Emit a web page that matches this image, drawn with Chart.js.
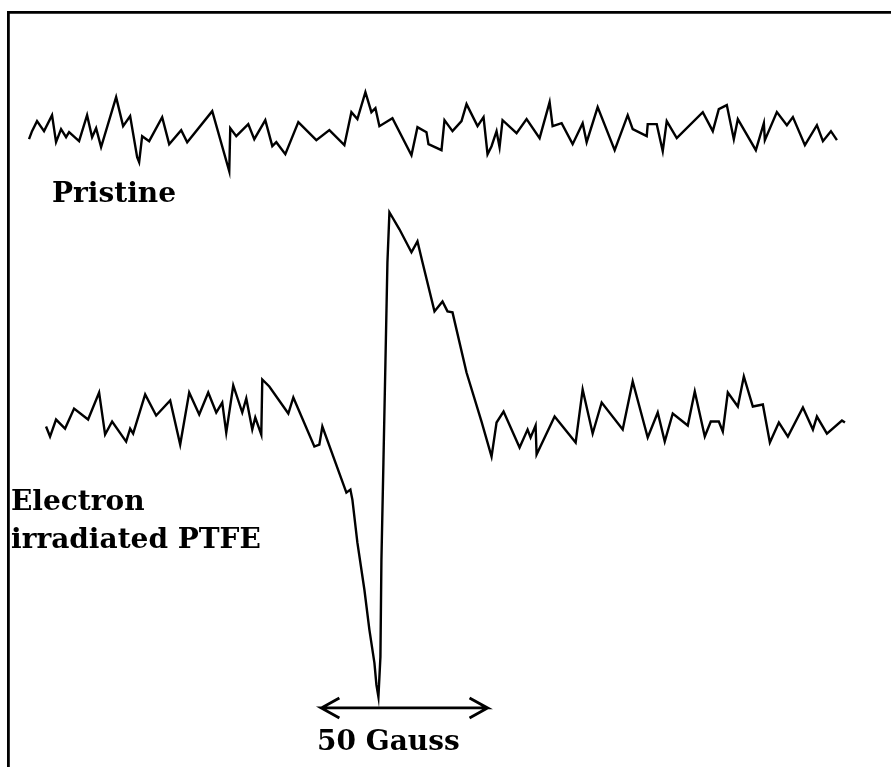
<!DOCTYPE html>
<html>
<head>
<meta charset="utf-8">
<script src="https://cdn.jsdelivr.net/npm/chart.js@4.4.1/dist/chart.umd.min.js"></script>
<style>
  html, body { margin: 0; padding: 0; background: #fff; }
  #wrap { width: 891px; height: 767px; }
</style>
</head>
<body>
<div id="wrap"><canvas id="esr" width="891" height="767"></canvas></div>
<script>
// ESR spectra (field in arbitrary units along x, signal along y)
const pristineField = [21,24,29,36,44,48,53,58,61,71,79,84,88,93,108,115,122,129,131,134,141,154,161,173,179,204,221,222,228,240,246,257,264,268,277,290,308,321,336,343,349,357,363,367,371,384,403,409,418,420,433,436,444,453,458,469,475,479,483,488,491,494,508,518,531,541,544,553,564,574,578,589,606,619,624,638,639,648,654,658,668,694,704,710,718,725,729,747,755,756,768,778,784,796,808,814,822,828];
const pristineSignal = [627,635,645,635,651,624,637,629,634,625,651,629,638,619,669,640,650,609,604,630,625,649,622,636,624,655,595,638,630,642,627,646,620,624,612,644,626,636,621,654,647,674,654,658,640,648,611,639,634,622,616,646,635,645,662,640,649,612,620,635,619,646,633,647,628,664,640,643,622,643,624,659,616,651,637,630,642,642,615,645,628,654,635,657,661,627,647,616,643,626,654,641,649,621,641,625,635,626];

const irradField = [38,42,48,57,66,80,91,97,104,118,122,125,137,148,162,172,181,191,200,208,214,218,225,234,238,244,247,253,254,261,280,285,306,311,314,338,342,344,349,356,361,366,368,370,372,373,375,377,379,381,391,403,409,414,426,434,439,444,458,473,483,488,495,511,519,522,527,528,546,567,574,584,593,614,624,639,649,656,664,679,686,696,702,710,714,719,729,735,744,754,761,770,779,794,804,808,818,833,836];
const irradSignal = [340,330,347,338,358,347,374,332,345,325,338,333,372,351,366,322,374,352,374,354,364,334,381,354,368,337,349,332,387,380,353,369,320,322,340,274,277,267,224,177,137,104,82,70,110,207,304,404,504,554,537,514,525,504,455,465,455,454,394,345,310,344,355,319,337,329,341,312,350,324,377,333,364,337,385,329,354,325,353,341,375,330,345,345,335,374,360,390,360,362,324,344,330,359,337,350,333,346,344];

// 50 Gauss scale bar
const gaussStart = 313;
const gaussEnd = 479;
const gaussLevel = 59;

const toPoints = (xs, ys) => xs.map((x, i) => ({ x: x, y: ys[i] }));

const head = { dx: 18, dy: 10 };
const scaleBar = [
  { x: gaussStart + head.dx, y: gaussLevel + head.dy },
  { x: gaussStart, y: gaussLevel },
  { x: gaussStart + head.dx, y: gaussLevel - head.dy },
  { x: gaussStart, y: gaussLevel },
  { x: gaussEnd, y: gaussLevel },
  { x: gaussEnd - head.dx, y: gaussLevel + head.dy },
  { x: gaussEnd, y: gaussLevel },
  { x: gaussEnd - head.dx, y: gaussLevel - head.dy }
];

const labels = [
  { text: 'Pristine', x: 44, y: 564, align: 'left' },
  { text: 'Electron', x: 3, y: 257, align: 'left' },
  { text: 'irradiated PTFE', x: 3, y: 219, align: 'left' },
  { text: '50 Gauss', x: 380, y: 17, align: 'center' }
];

const labelPlugin = {
  id: 'labels',
  afterDatasetsDraw(chart) {
    const { ctx, scales } = chart;
    ctx.save();
    ctx.fillStyle = '#000';
    ctx.font = 'bold 28px "DejaVu Serif"';
    ctx.textBaseline = 'alphabetic';
    labels.forEach(l => {
      ctx.textAlign = l.align;
      ctx.fillText(l.text, scales.x.getPixelForValue(l.x), scales.y.getPixelForValue(l.y));
    });
    ctx.restore();
  }
};

const line = (data, w) => ({
  data: data,
  borderColor: '#000',
  borderWidth: w,
  pointRadius: 0,
  tension: 0,
  fill: false,
  borderJoinStyle: 'miter'
});

new Chart(document.getElementById('esr'), {
  type: 'line',
  data: {
    datasets: [
      line(toPoints(pristineField, pristineSignal), 2.4),
      line(toPoints(irradField, irradSignal), 2.4),
      line(scaleBar, 2.8)
    ]
  },
  options: {
    responsive: false,
    animation: false,
    layout: { padding: { left: 8, top: 12, right: 0, bottom: 0 } },
    plugins: { legend: { display: false }, tooltip: { enabled: false } },
    scales: {
      x: {
        type: 'linear', position: 'top', min: 0, max: 882,
        ticks: { display: false }, grid: { display: false, drawTicks: false },
        border: { display: true, color: '#000', width: 2.8 }
      },
      y: {
        type: 'linear', min: 0, max: 754,
        ticks: { display: false }, grid: { display: false, drawTicks: false },
        border: { display: true, color: '#000', width: 2.8 }
      }
    }
  },
  plugins: [labelPlugin]
});
</script>
</body>
</html>
